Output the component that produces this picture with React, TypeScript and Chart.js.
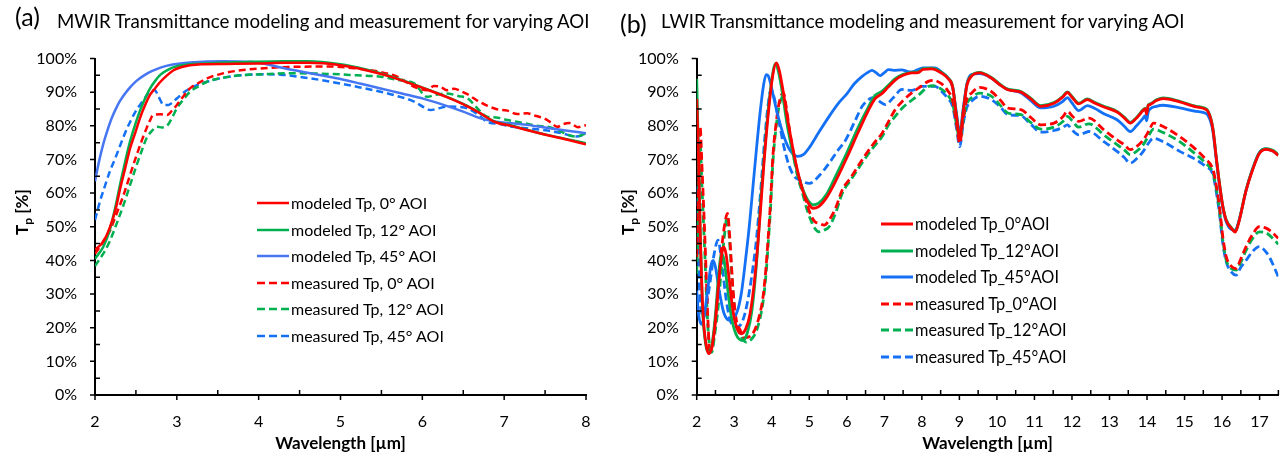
import React, { useEffect, useRef } from 'react';
import { Chart, registerables } from 'chart.js';

Chart.register(...registerables);

type Pt = [number, number];

// ---------- (a) MWIR data: [wavelength µm, Tp %] ----------
const mwirModeled0: Pt[] = [
  [2, 43.2], [2.1, 45.5], [2.18, 49.7], [2.25, 55], [2.31, 61.6], [2.37, 67.5], [2.43, 73.4], [2.5, 78.5],
  [2.55, 82.3], [2.61, 86], [2.67, 89.1], [2.74, 91.3], [2.8, 93.1], [2.88, 95], [2.96, 96.5], [3.05, 97.4],
  [3.16, 98], [3.3, 98.3], [3.6, 98.4], [4.0, 98.5], [4.3, 98.7], [4.6, 98.7], [5.0, 98], [5.3, 96.6],
  [5.6, 94.7], [6.02, 91.1], [6.3, 88.5], [6.55, 85.8], [6.71, 83.7], [6.88, 81.2], [7.1, 79.9], [7.3, 78.6],
  [7.53, 77.2], [7.8, 75.7], [8, 74.5],
];
const mwirModeled12: Pt[] = [
  [2, 40.5], [2.1, 44], [2.18, 49], [2.25, 56], [2.31, 63], [2.37, 69.5], [2.43, 75.5], [2.5, 81],
  [2.55, 84.5], [2.61, 88], [2.67, 91], [2.74, 93.5], [2.8, 95.2], [2.9, 96.8], [3.0, 97.7], [3.16, 98.3],
  [3.4, 98.6], [3.8, 98.9], [4.3, 99.2], [4.6, 99.2], [5.0, 98.3], [5.3, 96.8], [5.6, 94.8], [6.02, 91.2],
  [6.3, 88.6], [6.55, 85.9], [6.71, 83.7], [6.88, 81.3], [7.1, 80], [7.3, 78.7], [7.53, 77.3], [7.8, 75.9],
  [8, 74.8],
];
const mwirModeled45: Pt[] = [
  [2, 63.5], [2.05, 69.5], [2.1, 74.5], [2.15, 78.5], [2.2, 82], [2.25, 84.8], [2.3, 87.2], [2.4, 90.6],
  [2.5, 93.2], [2.6, 95], [2.7, 96.3], [2.8, 97.3], [2.95, 98.2], [3.16, 98.8], [3.57, 99.2], [3.9, 99],
  [4.1, 98.3], [4.27, 97.3], [4.5, 96.2], [4.76, 95], [5.0, 93.9], [5.25, 92.5], [5.49, 91.1], [5.75, 89.6],
  [6.02, 88], [6.25, 86.3], [6.5, 84.2], [6.71, 82.2], [6.9, 81.2], [7.12, 80.7], [7.3, 80.2], [7.5, 79.5],
  [7.75, 78.6], [8, 77.8],
];
const mwirMeasured0: Pt[] = [
  [2, 42], [2.06, 44], [2.12, 46.5], [2.18, 48.7], [2.25, 53], [2.35, 59.5], [2.43, 65.5], [2.51, 71.4],
  [2.57, 75.5], [2.63, 79.3], [2.67, 81.5], [2.71, 83.2], [2.8, 83.4], [2.88, 83.2], [2.94, 84.5], [3.0, 86.2],
  [3.08, 88.8], [3.16, 91.1], [3.27, 92.8], [3.37, 94.1], [3.55, 95.5], [3.78, 96.5], [4.0, 97], [4.39, 97.5],
  [4.88, 97.6], [5.2, 97], [5.49, 96], [5.7, 94.5], [5.9, 91.6], [6.06, 90.6], [6.14, 91.8], [6.22, 91.6],
  [6.3, 90.6], [6.39, 91], [6.47, 90.3], [6.55, 89.4], [6.67, 87.5], [6.79, 86], [6.9, 85], [7.04, 84.5],
  [7.16, 83.5], [7.28, 83.7], [7.38, 83], [7.49, 82.2], [7.57, 81], [7.65, 79.7], [7.72, 80.5], [7.8, 80.8],
  [7.9, 79.6], [8, 80.2],
];
const mwirMeasured12: Pt[] = [
  [2, 38.3], [2.06, 40.5], [2.12, 42.8], [2.18, 45.7], [2.25, 50], [2.35, 56.6], [2.43, 62.5], [2.51, 68.4],
  [2.57, 72.5], [2.63, 76.3], [2.7, 78.6], [2.76, 79.7], [2.82, 79.5], [2.88, 80], [2.94, 82.3], [3.0, 85.2],
  [3.08, 87.8], [3.16, 90.1], [3.27, 91.8], [3.37, 93.1], [3.55, 94.2], [3.78, 95], [4.1, 95.4], [4.39, 95.6],
  [4.88, 95.4], [5.2, 95], [5.49, 94.6], [5.7, 93.6], [5.9, 92.6], [6.06, 88.6], [6.16, 89.2], [6.3, 89.6],
  [6.45, 88.8], [6.55, 88.2], [6.7, 84.5], [6.79, 82.7], [6.9, 82.5], [7.04, 81.7], [7.2, 81], [7.4, 80],
  [7.53, 79.7], [7.68, 78.5], [7.77, 77.4], [7.88, 76.8], [8, 77.8],
];
const mwirMeasured45: Pt[] = [
  [2, 52], [2.06, 57.5], [2.12, 62], [2.18, 66.4], [2.25, 70.5], [2.31, 74.3], [2.37, 78], [2.43, 81.2],
  [2.49, 84], [2.55, 86.2], [2.61, 88.3], [2.67, 90.1], [2.73, 90.6], [2.78, 88.5], [2.84, 86.2], [2.9, 86.2],
  [2.95, 87], [3.0, 88.1], [3.08, 89.8], [3.16, 91.1], [3.27, 92.3], [3.37, 93.1], [3.55, 94.2], [3.78, 95],
  [4.1, 95.3], [4.27, 95.2], [4.6, 94.2], [4.88, 93.1], [5.2, 91.6], [5.49, 90.1], [5.7, 88.8], [5.9, 87.2],
  [6.02, 85.5], [6.1, 84.7], [6.2, 85.2], [6.3, 85.7], [6.45, 85.6], [6.55, 85.2], [6.7, 83], [6.79, 81.2],
  [6.95, 80.5], [7.1, 79.7], [7.3, 79.2], [7.5, 78.7], [7.7, 77.8], [7.88, 76.8], [8, 77.5],
];

// ---------- (b) LWIR data ----------
const lwirModeled0: Pt[] = [
  [2, 88], [2.05, 70], [2.1, 45], [2.17, 24], [2.25, 15], [2.32, 12.3], [2.4, 14], [2.48, 20], [2.56, 30],
  [2.64, 39.5], [2.72, 44], [2.78, 42], [2.86, 35], [2.96, 25.5], [3.07, 20], [3.19, 18.2], [3.3, 19.5],
  [3.42, 24], [3.55, 35], [3.68, 52], [3.8, 70], [3.92, 85], [4.02, 94.5], [4.12, 98.7], [4.2, 96.5],
  [4.3, 90.5], [4.42, 82], [4.55, 74], [4.7, 66], [4.85, 60], [5.0, 56.5], [5.1, 55.5], [5.25, 56],
  [5.45, 58.5], [5.7, 63.5], [6.0, 70.5], [6.3, 78], [6.55, 84], [6.75, 88], [6.94, 89.6], [7.1, 91.5],
  [7.29, 93.6], [7.5, 95], [7.73, 95.7], [7.9, 95.8], [8.04, 96.8], [8.26, 96.9], [8.52, 95.7], [8.7, 94],
  [8.82, 91.5], [8.92, 83], [9.01, 76.5], [9.1, 84], [9.2, 92], [9.32, 94.7], [9.54, 95.7], [9.85, 94.2],
  [10.1, 92], [10.29, 90.7], [10.64, 90], [10.9, 88], [11.17, 85.8], [11.52, 86.7], [11.75, 88.5],
  [11.88, 89.9], [12.0, 88.5], [12.18, 86.5], [12.41, 87.8], [12.6, 86.8], [12.85, 85.6], [13.2, 84.1],
  [13.4, 82.3], [13.55, 80.8], [13.72, 82.3], [13.9, 84.6], [13.95, 85], [13.99, 83.5], [14.03, 86],
  [14.08, 86.3], [14.25, 87.5], [14.43, 88.1], [14.87, 87.1], [15.31, 85.6], [15.58, 84.8], [15.7, 82],
  [15.76, 78.7], [15.85, 70], [15.93, 62.8], [16.02, 56], [16.11, 51.9], [16.25, 49.5], [16.35, 48.4],
  [16.45, 51.5], [16.64, 60.8], [16.8, 66.5], [16.99, 71.7], [17.17, 73], [17.35, 72.5], [17.5, 71.2],
];
const lwirModeled12: Pt[] = [
  [2, 94], [2.04, 75], [2.08, 55], [2.15, 27], [2.24, 15], [2.33, 12.7], [2.42, 16], [2.5, 24], [2.58, 35],
  [2.66, 42], [2.73, 40], [2.82, 32], [2.92, 23.5], [3.05, 18], [3.23, 16.2], [3.35, 18.5], [3.47, 25],
  [3.6, 40], [3.72, 60], [3.85, 78], [3.97, 91], [4.1, 98.5], [4.18, 96], [4.28, 90], [4.4, 81],
  [4.55, 72.5], [4.7, 65.5], [4.85, 60.5], [5.0, 57.3], [5.1, 56.5], [5.25, 57], [5.45, 59.5], [5.7, 65],
  [6.0, 72], [6.3, 79.5], [6.55, 85], [6.75, 89], [6.94, 90.3], [7.1, 92], [7.29, 94], [7.5, 95.3],
  [7.73, 95.9], [7.9, 96], [8.04, 97], [8.26, 97.1], [8.52, 95.9], [8.7, 94.2], [8.82, 91.7], [8.92, 83.2],
  [9.01, 76.7], [9.1, 84.2], [9.2, 92.2], [9.32, 94.9], [9.54, 95.9], [9.85, 94.4], [10.1, 92.2],
  [10.29, 90.9], [10.64, 90.2], [10.9, 88.2], [11.17, 86], [11.52, 86.9], [11.75, 88.7], [11.88, 90.1],
  [12.0, 88.7], [12.18, 86.7], [12.41, 88], [12.6, 87], [12.85, 85.8], [13.2, 84.3], [13.4, 82.5],
  [13.55, 81], [13.72, 82.5], [13.9, 84.8], [13.95, 85.2], [13.99, 83.7], [14.03, 86.2], [14.08, 86.5],
  [14.25, 87.7], [14.43, 88.3], [14.87, 87.3], [15.31, 85.8], [15.58, 85], [15.7, 82.2], [15.76, 78.9],
  [15.85, 70.2], [15.93, 63], [16.02, 56.2], [16.11, 52.1], [16.25, 49.7], [16.35, 48.6], [16.45, 51.7],
  [16.64, 61], [16.8, 66.7], [16.99, 71.9], [17.17, 73.2], [17.35, 72.7], [17.5, 71.4],
];
const lwirModeled45: Pt[] = [
  [2, 31], [2.05, 24], [2.13, 21], [2.2, 23.5], [2.3, 32], [2.38, 38.5], [2.44, 40], [2.5, 38], [2.6, 31],
  [2.72, 24.5], [2.88, 22.2], [3.0, 23], [3.1, 25.5], [3.2, 31], [3.3, 40], [3.4, 50], [3.5, 62], [3.6, 74],
  [3.7, 85], [3.78, 92], [3.85, 95.2], [3.92, 94.5], [4.0, 91], [4.1, 86], [4.2, 81.5], [4.35, 76],
  [4.5, 72.5], [4.69, 70.9], [4.85, 71.5], [5.0, 73.5], [5.25, 78], [5.53, 82.8], [5.8, 87], [6.0, 89.5],
  [6.2, 92.5], [6.41, 94.7], [6.55, 95.8], [6.67, 96.5], [6.78, 95.8], [6.89, 94.9], [7.0, 95.8],
  [7.11, 96.7], [7.25, 96.5], [7.47, 96.6], [7.6, 96.2], [7.73, 96], [7.88, 96.6], [8.04, 97.2], [8.35, 97.2],
  [8.52, 96], [8.7, 94.2], [8.82, 91.5], [8.92, 84], [9.01, 77.7], [9.1, 85], [9.2, 92.5], [9.32, 95.2],
  [9.54, 95.5], [9.85, 94.2], [10.1, 92], [10.29, 90.8], [10.64, 89.8], [10.9, 87.5], [11.17, 85.3],
  [11.52, 85.8], [11.75, 87.2], [11.88, 88.4], [12.0, 86.8], [12.18, 84.5], [12.41, 86], [12.6, 85.2],
  [12.85, 83.6], [13.2, 81.8], [13.4, 79.8], [13.55, 78.3], [13.72, 80], [13.9, 82.3], [13.95, 83],
  [13.99, 81.5], [14.03, 84], [14.08, 85], [14.25, 85.8], [14.43, 86.1], [14.87, 85.3], [15.31, 84.3],
  [15.58, 83.6], [15.7, 81], [15.76, 78], [15.85, 69.5], [15.93, 62.3], [16.02, 55.5], [16.11, 51.5],
  [16.25, 49.2], [16.35, 49], [16.45, 51.8], [16.64, 60.8], [16.8, 66.8], [16.99, 72], [17.17, 73.1],
  [17.35, 72.5], [17.5, 71.3],
];
const lwirMeasured0: Pt[] = [
  [2, 41], [2.05, 62], [2.09, 79.8], [2.14, 68], [2.22, 46], [2.3, 22], [2.35, 12.5], [2.42, 15], [2.53, 26],
  [2.65, 42], [2.75, 51], [2.82, 54], [2.88, 47], [2.97, 31], [3.06, 22], [3.15, 19.5], [3.27, 17],
  [3.37, 17.2], [3.48, 18], [3.59, 20.5], [3.68, 24], [3.76, 28.5], [3.84, 37], [3.9, 46], [3.97, 58],
  [4.03, 70.9], [4.12, 81], [4.2, 87], [4.31, 89.8], [4.38, 86], [4.47, 79], [4.56, 72.9], [4.69, 66],
  [4.82, 61], [4.93, 57], [5.04, 53.5], [5.15, 51.5], [5.26, 51], [5.4, 50.5], [5.53, 52], [5.7, 55.5],
  [5.88, 61], [6.1, 64.5], [6.41, 69.9], [6.7, 74.5], [6.94, 77.8], [7.1, 81], [7.29, 84.8], [7.5, 87.5],
  [7.73, 89.8], [7.95, 91.5], [8.17, 93.2], [8.3, 93.5], [8.52, 92.5], [8.7, 90.3], [8.82, 87.5], [8.92, 81],
  [9.01, 74.8], [9.1, 82], [9.2, 88], [9.32, 89.7], [9.54, 91.4], [9.85, 90.2], [10.1, 87.5], [10.29, 85.3],
  [10.64, 84.8], [10.9, 82.5], [11.17, 80.3], [11.52, 80.8], [11.75, 82.6], [11.88, 84.3], [12.0, 83],
  [12.18, 81.3], [12.45, 82.3], [12.85, 78.8], [13.2, 75.8], [13.4, 74.3], [13.55, 72.9], [13.72, 73.8],
  [13.9, 75.8], [14.05, 78.5], [14.17, 80.8], [14.43, 79.8], [14.87, 76.8], [15.31, 72.9], [15.55, 70.2],
  [15.76, 66.9], [15.85, 62], [15.93, 56], [16.02, 47], [16.11, 41.1], [16.25, 38.2], [16.37, 37.6],
  [16.5, 40.5], [16.64, 44.1], [16.8, 47.5], [16.99, 50], [17.17, 49.6], [17.26, 49], [17.5, 46.6],
];
const lwirMeasured12: Pt[] = [
  [2, 36], [2.05, 58], [2.09, 75], [2.14, 62], [2.22, 41], [2.3, 20], [2.4, 12.7], [2.48, 18], [2.57, 26],
  [2.66, 38], [2.75, 48.5], [2.81, 53], [2.88, 45], [2.97, 30], [3.06, 21], [3.15, 18], [3.32, 15.7],
  [3.45, 16.5], [3.59, 19], [3.68, 22.5], [3.76, 27], [3.84, 35], [3.9, 44], [3.97, 56], [4.03, 69],
  [4.12, 80], [4.2, 86], [4.31, 88.8], [4.38, 85], [4.47, 78], [4.56, 72], [4.69, 65], [4.82, 60],
  [4.93, 55.5], [5.04, 52], [5.15, 49.5], [5.26, 48.5], [5.4, 49], [5.53, 50], [5.7, 54], [5.88, 60],
  [6.1, 63.8], [6.41, 69], [6.7, 73.5], [6.94, 76.8], [7.1, 80], [7.29, 82.8], [7.5, 85.5], [7.73, 87.6],
  [7.95, 89.5], [8.17, 91.7], [8.3, 91.9], [8.52, 90.9], [8.7, 89], [8.82, 86.5], [8.92, 80.5], [9.01, 75.8],
  [9.1, 81.5], [9.2, 86.5], [9.32, 88.3], [9.54, 89.7], [9.85, 88.8], [10.1, 86], [10.29, 83.8],
  [10.64, 83.3], [10.9, 81], [11.17, 79], [11.52, 79.6], [11.75, 81.2], [11.88, 82.8], [12.0, 81.6],
  [12.18, 79.6], [12.45, 80.6], [12.85, 77.3], [13.2, 74.4], [13.4, 72.8], [13.55, 71.4], [13.72, 72.4],
  [13.9, 74.4], [14.05, 77.2], [14.17, 79], [14.43, 78], [14.87, 75.3], [15.31, 71.4], [15.55, 69],
  [15.76, 65.9], [15.85, 61], [15.93, 55], [16.02, 46], [16.11, 40.1], [16.25, 37.5], [16.37, 37.1],
  [16.5, 39.5], [16.64, 43], [16.8, 46.3], [16.99, 48.5], [17.17, 48.2], [17.26, 47.5], [17.5, 44.8],
];
const lwirMeasured45: Pt[] = [
  [2, 62], [2.04, 45], [2.08, 30], [2.13, 24.5], [2.18, 23], [2.25, 26], [2.35, 33], [2.45, 41], [2.57, 46],
  [2.66, 40], [2.79, 28], [2.9, 22], [3.06, 20.2], [3.18, 21], [3.28, 24], [3.4, 30.5], [3.5, 38],
  [3.59, 46], [3.7, 60], [3.81, 75.8], [3.9, 86], [3.98, 90.8], [4.06, 88.5], [4.2, 80.8], [4.33, 73.5],
  [4.47, 67.9], [4.6, 65], [4.73, 63.9], [4.87, 63.2], [5.0, 62.9], [5.25, 65], [5.53, 68.9], [5.75, 72.5],
  [5.97, 75.8], [6.2, 81], [6.41, 85.8], [6.55, 87.5], [6.67, 88.3], [6.8, 87.8], [7.03, 86.3], [7.25, 88.5],
  [7.47, 90.8], [7.73, 90.5], [8.0, 91.7], [8.35, 91.7], [8.52, 90.3], [8.7, 88], [8.82, 85.8], [8.92, 79.5],
  [9.01, 73.8], [9.1, 80.5], [9.2, 85.5], [9.32, 87.3], [9.54, 88.8], [9.85, 87.8], [10.1, 85.5],
  [10.29, 83.3], [10.64, 83], [10.9, 80.5], [11.17, 78.1], [11.52, 78.6], [11.75, 79.5], [11.88, 80.3],
  [12.0, 78.8], [12.18, 77.3], [12.45, 78.3], [12.85, 75.3], [13.2, 72.4], [13.4, 70.5], [13.55, 68.9],
  [13.72, 70.2], [13.9, 72.4], [14.05, 75], [14.17, 76.3], [14.43, 75.3], [14.87, 72.4], [15.31, 69.9],
  [15.55, 68], [15.76, 65.4], [15.85, 60], [15.93, 54], [16.02, 45], [16.11, 39.6], [16.25, 36.5],
  [16.37, 35.6], [16.5, 38], [16.64, 40], [16.8, 42.5], [16.99, 44.1], [17.17, 42.5], [17.26, 41], [17.5, 35.1],
];

// ---------- labels ----------
const mwirLabels = [
  'modeled Tp, 0° AOI', 'modeled Tp, 12° AOI', 'modeled Tp, 45° AOI',
  'measured Tp, 0° AOI', 'measured Tp, 12° AOI', 'measured Tp, 45° AOI',
];
const lwirLabels = [
  'modeled Tp_0°AOI', 'modeled Tp_12°AOI', 'modeled Tp_45°AOI',
  'measured Tp_0°AOI', 'measured Tp_12°AOI', 'measured Tp_45°AOI',
];
const mwirTitle = 'MWIR Transmittance modeling and measurement for varying AOI';
const lwirTitle = 'LWIR Transmittance modeling and measurement for varying AOI';
const xTitle = 'Wavelength [µm]';

const RED = '#FF0000';
const GREEN = '#00B050';
const BLUE_A = '#4676F2';
const BLUE_M = '#1470F5';
const FAMILY = 'Lato';
const FONT = 'Lato, "Open Sans", sans-serif';

const mwirColors = [RED, GREEN, BLUE_A, RED, GREEN, BLUE_M];
const lwirColors = [RED, GREEN, BLUE_M, RED, GREEN, BLUE_M];

// font size that makes `text` about `target` px wide
function fitSize(text: string, target: number, base: number, weight = 'normal'): number {
  try {
    const c = document.createElement('canvas').getContext('2d');
    if (!c) return base;
    c.font = `${weight} ${base}px ${FAMILY}`;
    const w = c.measureText(text).width;
    if (!w) return base;
    return Math.round((base * target / w) * 10) / 10;
  } catch {
    return base;
  }
}

const axisTicks = {
  id: 'axisTicks',
  afterDraw(chart: any) {
    const { ctx, chartArea } = chart;
    const xs = chart.scales.x;
    const ys = chart.scales.y;
    const L = 5;
    ctx.save();
    ctx.strokeStyle = '#000';
    ctx.lineWidth = 1.5;
    ctx.beginPath();
    const xMajor: number[] = xs.ticks.map((t: any) => t.value);
    xMajor.forEach((v) => {
      const p = xs.getPixelForValue(v);
      ctx.moveTo(p, chartArea.bottom); ctx.lineTo(p, chartArea.bottom + L);
      const m = v + 0.5;
      if (m <= xs.max + 1e-9) {
        const pm = xs.getPixelForValue(m);
        ctx.moveTo(pm, chartArea.bottom); ctx.lineTo(pm, chartArea.bottom - L);
      }
    });
    const yMajor: number[] = ys.ticks.map((t: any) => t.value);
    yMajor.forEach((v) => {
      const p = ys.getPixelForValue(v);
      ctx.moveTo(chartArea.left - L, p); ctx.lineTo(chartArea.left, p);
      const m = v + 5;
      if (m <= ys.max) {
        const pm = ys.getPixelForValue(m);
        ctx.moveTo(chartArea.left, pm); ctx.lineTo(chartArea.left + L, pm);
      }
    });
    ctx.stroke();
    ctx.restore();
  },
};

function makeConfig(
  series: Pt[][], labels: string[], colors: string[], xMax: number,
  yAxisWidth: number, padRight: number, lw: number, dash: number[],
): any {
  return {
    type: 'line',
    data: {
      datasets: series.map((s, i) => ({
        label: labels[i],
        data: s.map(([x, y]) => ({ x, y })),
        borderColor: colors[i],
        backgroundColor: colors[i],
        borderWidth: lw,
        borderDash: i >= 3 ? dash : [],
        pointRadius: 0,
        tension: 0.3,
        cubicInterpolationMode: 'monotone',
        fill: false,
      })),
    },
    options: {
      responsive: false,
      animation: false,
      devicePixelRatio: 1,
      layout: { padding: { left: 0, right: padRight, top: 58.5, bottom: 0 } },
      plugins: { legend: { display: false }, tooltip: { enabled: false }, title: { display: false } },
      scales: {
        x: {
          type: 'linear', min: 2, max: xMax,
          afterFit: (s: any) => { s.height = 62; },
          grid: { display: false, drawTicks: false },
          border: { display: true, color: '#000', width: 2 },
          ticks: { stepSize: 1, includeBounds: false, color: '#000', padding: 17, font: { family: FONT, size: 16 } },
          title: { display: true, text: xTitle, color: '#000', font: { family: FONT, size: 17, weight: 'bold' }, padding: { top: 0, bottom: 3 } },
        },
        y: {
          type: 'linear', min: 0, max: 100,
          afterFit: (s: any) => { s.width = yAxisWidth; },
          grid: { display: false, drawTicks: false },
          border: { display: true, color: '#000', width: 2 },
          ticks: { stepSize: 10, color: '#000', padding: 18, font: { family: FONT, size: 16 }, callback: (v: any) => v + '%' },
        },
      },
    },
    plugins: [axisTicks],
  };
}

function ChartCanvas({ left, width, config }: { left: number; width: number; config: () => any }) {
  const ref = useRef<HTMLCanvasElement>(null);
  useEffect(() => {
    const chart = new Chart(ref.current as HTMLCanvasElement, config());
    return () => chart.destroy();
  }, []);
  return <canvas ref={ref} width={width} height={457} style={{ position: 'absolute', left, top: 0, width, height: 457 }} />;
}

function Legend({ left, top, gap, labels, colors, fontSize, lineLen, lw, dash }: any) {
  return (
    <div style={{ position: 'absolute', left, top }}>
      {labels.map((l: string, i: number) => (
        <div key={l} style={{ position: 'absolute', left: 0, top: i * gap - 10, height: 20, display: 'flex', alignItems: 'center', whiteSpace: 'nowrap' }}>
          <svg width={lineLen} height={6} style={{ display: 'block' }}>
            <line x1={0} y1={3} x2={lineLen} y2={3} stroke={colors[i]} strokeWidth={lw}
              strokeDasharray={i >= 3 ? dash : undefined} />
          </svg>
          <span style={{ marginLeft: 2, fontSize, color: '#000', lineHeight: '20px' }}>{l}</span>
        </div>
      ))}
    </div>
  );
}

function YTitle({ cx, cy }: { cx: number; cy: number }) {
  return (
    <div style={{
      position: 'absolute', left: cx - 40, top: cy - 12, width: 80, height: 24, lineHeight: '24px',
      textAlign: 'center', transform: 'rotate(-90deg)', fontWeight: 'bold', fontSize: 17, whiteSpace: 'nowrap', color: '#000',
    }}>
      T<span style={{ fontSize: 12, position: 'relative', top: 4 }}>p</span> [%]
    </div>
  );
}

export default function App() {
  const titleSize = fitSize(mwirTitle, 535, 17.5);
  const legASize = fitSize(mwirLabels[0], 137.5, 16);
  const legBSize = fitSize(lwirLabels[0], 135, 16.5);
  return (
    <div style={{ position: 'absolute', left: 0, top: 0, width: 1286, height: 457, background: '#fff', fontFamily: FONT, overflow: 'hidden' }}>
      <ChartCanvas left={0} width={620}
        config={() => makeConfig([mwirModeled0, mwirModeled12, mwirModeled45, mwirMeasured0, mwirMeasured12, mwirMeasured45],
          mwirLabels, mwirColors, 8, 95, 34, 2.5, [7, 4])} />
      <ChartCanvas left={600} width={686}
        config={() => makeConfig([lwirModeled0, lwirModeled12, lwirModeled45, lwirMeasured0, lwirMeasured12, lwirMeasured45],
          lwirLabels, lwirColors, 17.5, 96.7, 3.4, 2.8, [8, 4])} />
      <div style={{ position: 'absolute', left: 15, top: 1, fontSize: 25, lineHeight: '30px' }}>(a)</div>
      <div style={{ position: 'absolute', left: 57, top: 8, fontSize: titleSize, lineHeight: '26px', whiteSpace: 'nowrap' }}>{mwirTitle}</div>
      <div style={{ position: 'absolute', left: 620, top: 8, fontSize: 25, lineHeight: '30px' }}>(b)</div>
      <div style={{ position: 'absolute', left: 661, top: 8, fontSize: titleSize, lineHeight: '26px', whiteSpace: 'nowrap' }}>{lwirTitle}</div>
      <YTitle cx={22} cy={212} />
      <YTitle cx={628} cy={212} />
      <Legend left={257} top={203} gap={26.5} labels={mwirLabels} colors={mwirColors} fontSize={legASize} lineLen={32} lw={2.5} dash="8 4" />
      <Legend left={881} top={224} gap={26.5} labels={lwirLabels} colors={lwirColors} fontSize={legBSize} lineLen={32} lw={3} dash="8 4" />
    </div>
  );
}
